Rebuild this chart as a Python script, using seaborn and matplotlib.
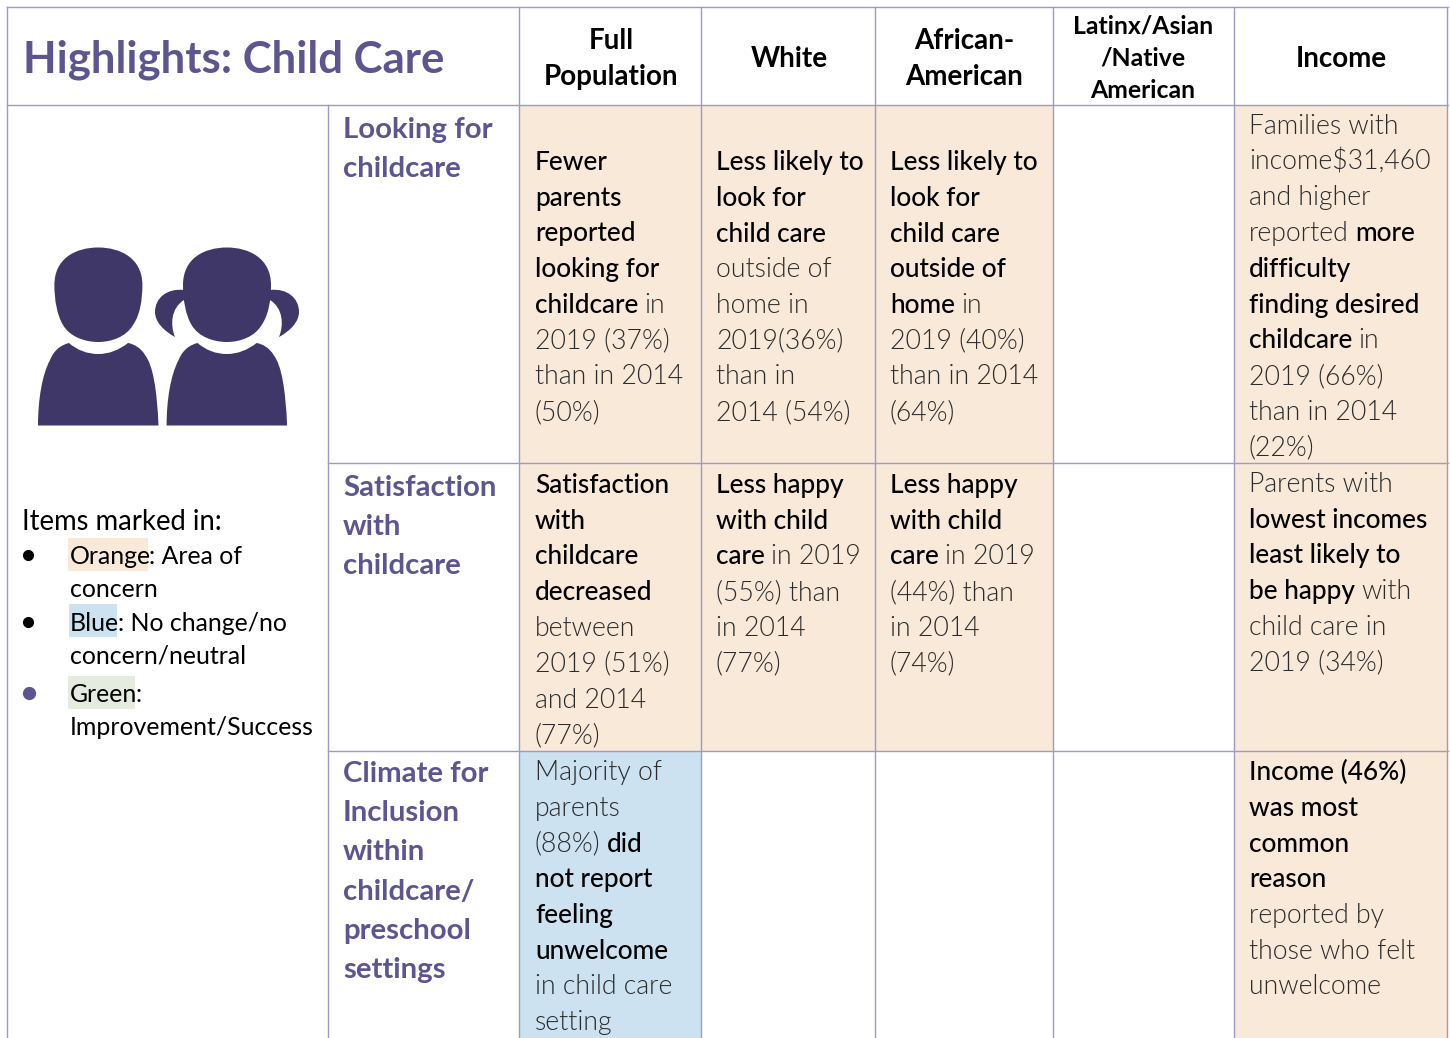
import numpy as np
import seaborn as sns
import matplotlib
matplotlib.use('Agg')
import matplotlib.pyplot as plt
from matplotlib.colors import ListedColormap
from matplotlib.patches import PathPatch, Rectangle
from matplotlib.path import Path

W, H = 1450, 1038
PURPLE = '#5d5590'
GRID = '#9e9ac6'
DARK = '#3f3768'
ORANGE = '#f8e9d9'
BLUE = '#cce2f0'
GREEN = '#e6ebe0'

plt.rcParams['font.family'] = ['Lato', 'DejaVu Sans']

# cell colours: 0 none, 1 orange, 2 blue
cell_codes = [[1, 1, 1, 0, 1],
              [1, 1, 1, 0, 1],
              [2, 0, 0, 0, 1]]

# table geometry (pixels of the slide)
col_edges = [520, 702, 876, 1054, 1235, 1447]
row_edges = [105, 463, 751, 1038]

title = 'Highlights: Child Care'
headers = [(611, ['Full', 'Population']),
           (789, ['White']),
           (964, ['African-', 'American']),
           (1341, ['Income'])]
header_small = ['Latinx/Asian', '/Native', 'American']

row_labels = [['Looking for', 'childcare'],
              ['Satisfaction', 'with', 'childcare'],
              ['Climate for', 'Inclusion', 'within', 'childcare/', 'preschool', 'settings']]

# ** marks the darker words
full_1 = ['**Fewer**', '**parents**', '**reported**', '**looking for**', '**childcare** in',
          '2019 (37%)', 'than in 2014', '(50%)']
white_1 = ['**Less likely to**', '**look for**', '**child care**', 'outside of', 'home in',
           '2019(36%)', 'than in', '2014 (54%)']
black_1 = ['**Less likely to**', '**look for**', '**child care**', '**outside of**', '**home** in',
           '2019 (40%)', 'than in 2014', '(64%)']
income_1 = ['Families with', 'income$31,460', 'and higher', 'reported **more**', '**difficulty**',
            '**finding desired**', '**childcare** in', '2019 (66%)', 'than in 2014', '(22%)']
full_2 = ['**Satisfaction**', '**with**', '**childcare**', '**decreased**', 'between',
          '2019 (51%)', 'and 2014', '(77%)']
white_2 = ['**Less happy**', '**with child**', '**care** in 2019', '(55%) than', 'in 2014', '(77%)']
black_2 = ['**Less happy**', '**with child**', '**care** in 2019', '(44%) than', 'in 2014', '(74%)']
income_2 = ['Parents with', '**lowest incomes**', '**least likely to**', '**be happy** with',
            'child care in', '2019 (34%)']
full_3 = ['Majority of', 'parents', '(88%) **did**', '**not report**', '**feeling**',
          '**unwelcome**', 'in child care', 'setting']
income_3 = ['**Income (46%)**', '**was most**', '**common**', '**reason**', 'reported by',
            'those who felt', 'unwelcome']

cells = [(535, 161, full_1), (716, 161, white_1), (890, 161, black_1), (1249, 125, income_1),
         (535, 484, full_2), (716, 484, white_2), (890, 484, black_2), (1249, 483, income_2),
         (535, 771, full_3), (1249, 771, income_3)]

fig = plt.figure(figsize=(W / 100, H / 100), dpi=100)

# coloured cells: seaborn heatmap, columns and rows spaced through function scales
hm = fig.add_axes([col_edges[0] / W, 1 - row_edges[-1] / H,
                   (col_edges[-1] - col_edges[0]) / W, (row_edges[-1] - row_edges[0]) / H])
sns.heatmap(cell_codes, cmap=ListedColormap(['#ffffff', ORANGE, BLUE]), vmin=0, vmax=2,
            cbar=False, xticklabels=False, yticklabels=False, ax=hm)
cols = np.arange(len(col_edges))
rows = np.arange(len(row_edges))
hm.set_xscale('function', functions=(lambda v: np.interp(v, cols, col_edges),
                                     lambda v: np.interp(v, col_edges, cols)))
hm.set_yscale('function', functions=(lambda v: np.interp(v, rows, row_edges),
                                     lambda v: np.interp(v, row_edges, rows)))
hm.set_xlim(0, 5)
hm.set_ylim(3, 0)
hm.set_axis_off()

# overlay in pixel units for rules, text and the icon
ax = fig.add_axes([0, 0, 1, 1])
ax.set_xlim(0, W)
ax.set_ylim(H, 0)
ax.axis('off')
ax.patch.set_alpha(0)
renderer = fig.canvas.get_renderer()

for x in [7.5, 519.5, 701.5, 875.5, 1053.5, 1234.5, 1447.5]:
    ax.plot([x, x], [7, H], color=GRID, lw=1)
ax.plot([328.5, 328.5], [105, H], color=GRID, lw=1)
ax.plot([7, 1448], [6.8, 6.8], color=GRID, lw=1)
ax.plot([7, 1448], [104.8, 104.8], color=GRID, lw=1)
for y in [462.8, 750.8]:
    ax.plot([328, 1448], [y, y], color=GRID, lw=1)


def draw_line(x, y, line):
    # mixed weights on one baseline
    for i, part in enumerate(line.split('**')):
        if not part.strip():
            continue
        strong = i % 2 == 1
        size = 18.9 if strong else 19.2
        t = ax.text(x, y, part.strip(), fontsize=size, va='baseline',
                    fontweight=500 if strong else 300,
                    color='black' if strong else '#2b2b2b')
        x += t.get_window_extent(renderer).width + size * 0.32


for x0, y0, lines in cells:
    for k, line in enumerate(lines):
        draw_line(x0, y0 + 9 + k * 35.75, line)

ax.text(23, 73, title, fontsize=31.5, fontweight='bold', color=PURPLE, va='baseline')

for x0, lines in headers:
    for k, line in enumerate(lines):
        ax.text(x0, (67 if len(lines) == 1 else 49 + k * 36), line, fontsize=20,
                fontweight='bold', ha='center', va='baseline', color='black')
for k, line in enumerate(header_small):
    ax.text(1143, 33 + k * 32.5, line, fontsize=17.8, fontweight='bold', ha='center',
            va='baseline', color='black')

for y0, lines in zip([138, 496, 782], row_labels):
    for k, line in enumerate(lines):
        ax.text(343, y0 + k * 39.2, line, fontsize=21.2, fontweight='bold', color=PURPLE,
                va='baseline')

# legend block
ax.add_patch(Rectangle((68, 538), 80, 33, color=ORANGE, lw=0))
ax.add_patch(Rectangle((69, 604), 48, 33, color=BLUE, lw=0))
ax.add_patch(Rectangle((68, 676), 67, 33, color=GREEN, lw=0))
LEG = 17.9
ax.text(22, 530, 'Items marked in:', fontsize=19.8, va='baseline', color='black')
ax.text(70, 564, 'Orange', fontsize=LEG, va='baseline', color='black')
ax.text(149, 564, ': Area of', fontsize=LEG, va='baseline', color='black')
ax.text(70, 597, 'concern', fontsize=LEG, va='baseline', color='black')
ax.text(70, 631, 'Blue', fontsize=LEG, va='baseline', color='black')
ax.text(118, 631, ': No change/no', fontsize=LEG, va='baseline', color='black')
ax.text(70, 664, 'concern/neutral', fontsize=LEG, va='baseline', color='black')
ax.text(70, 702, 'Green', fontsize=LEG, va='baseline', color='black')
ax.text(136, 702, ':', fontsize=LEG, va='baseline', color='black')
ax.text(70, 735, 'Improvement/Success', fontsize=LEG, va='baseline', color='black')
ax.plot([28, 28], [555, 622], 'o', color='black', ms=7, ls='none')
ax.plot([29], [693], 'o', color=PURPLE, ms=8.5, ls='none')


# icon of two children
def shape(points, dx=0, mirror=None):
    verts = []
    codes = []
    for p in points:
        if len(p) == 2:
            codes.append(Path.MOVETO if not verts else Path.LINETO)
            verts.append(p)
        else:
            verts += [p[:2], p[2:4], p[4:]]
            codes += [Path.CURVE4] * 3
    verts = np.array(verts, float)
    if mirror is not None:
        verts[:, 0] = 2 * mirror - verts[:, 0]
    verts[:, 0] += dx
    ax.add_patch(PathPatch(Path(verts, codes), fc=DARK, ec='none'))


head = [(54.4, 285), (54.4, 258, 76, 247.5, 98.4, 247.5), (120, 247.5, 142.4, 258, 142.4, 285),
        (142.4, 300, 140, 315, 133, 325), (126, 337, 111, 342, 98.4, 342),
        (85, 342, 70, 337, 63, 325), (57, 315, 54.4, 300, 54.4, 285)]
body = [(38, 425.5), (158.5, 425.5), (157, 390, 153, 365, 145, 355), (141, 348, 134, 344, 128, 343),
        (119, 350, 109, 354, 98.4, 354), (87, 354, 77, 350, 69, 343),
        (61, 345, 54, 350, 50, 360), (42, 375, 38, 400, 38, 425.5)]
pigtail = [(184, 290), (167, 288, 155, 298, 155, 312), (155, 322, 164, 331, 175, 337),
           (170, 325, 171, 308, 184, 300)]
for dx in [0, 128.6]:
    shape(head, dx)
    shape(body, dx)
shape(pigtail)
shape(pigtail, mirror=227)

fig.savefig('out.png', dpi=100)
